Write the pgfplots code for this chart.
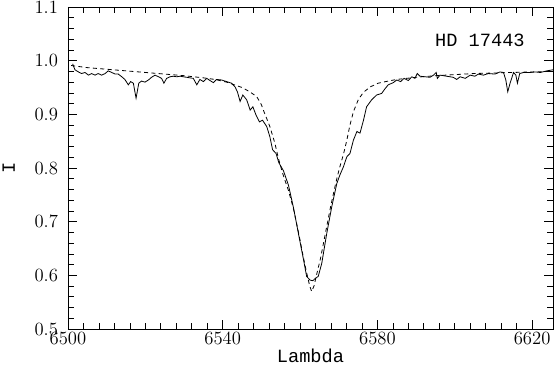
\documentclass[border=0pt]{standalone}
\usepackage{fontspec}
\usepackage{pgfplots}
\pgfplotsset{compat=1.18}
\newfontfamily\monofont{Liberation Mono}
\begin{document}
\begin{tikzpicture}
\useasboundingbox (-51pt,-27.75pt) rectangle (364.5pt,246.75pt);
\begin{axis}[
  at={(0pt,0pt)}, anchor=south west,
  scale only axis, width=363.75pt, height=241.5pt,
  xmin=6500, xmax=6625.4, ymin=0.5, ymax=1.1,
  xtick={6500,6540,6580,6620}, xticklabels={6500,6540,6580,6620},
  ytick={0.5,0.6,0.7,0.8,0.9,1.0,1.1}, yticklabels={0.5,0.6,0.7,0.8,0.9,1.0,1.1},
  minor x tick num=9, minor y tick num=4,
  tick align=inside, major tick length=7pt, minor tick length=4.5pt,
  tick style={black, line width=0.5pt},
  axis line style={line width=0.6pt},
  ticklabel style={font=\fontsize{14}{16}\selectfont\addfontfeature{LetterSpace=16}},
  xticklabel style={yshift=1.5pt},
  yticklabel style={xshift=-4pt},
  xlabel={Lambda},
  xlabel style={at={(axis description cs:0.5,-0.082)}, anchor=center, font=\monofont\fontsize{14}{16}\selectfont},
  ylabel={I},
  ylabel style={at={(axis description cs:-0.122,0.5)}, anchor=center, font=\monofont\fontsize{14}{16}\selectfont},
]
\addplot[black, line width=0.6pt, dash pattern=on 3pt off 2.5pt] coordinates {
(6500.8,0.991) (6505,0.987) (6510,0.984) (6515,0.981) (6520,0.978) (6525,0.975)
(6530,0.972) (6535,0.968) (6538,0.965) (6541,0.960) (6543,0.955) (6545,0.950)
(6547,0.942) (6548.8,0.933) (6550,0.918) (6550.5,0.908) (6551.5,0.890) (6552.2,0.877)
(6553.5,0.846) (6554.4,0.818) (6555.5,0.790) (6557,0.758) (6558.3,0.724) (6559.6,0.680)
(6560.9,0.632) (6561.7,0.605) (6562.5,0.580) (6563.0,0.570) (6563.6,0.580) (6564.4,0.605)
(6565.3,0.632) (6566.6,0.680) (6567.9,0.728) (6569.2,0.771) (6570.2,0.800) (6571.2,0.825)
(6572.1,0.852) (6572.9,0.880) (6573.8,0.905) (6575.1,0.928) (6576.4,0.941) (6578.1,0.951)
(6580.2,0.958) (6582.8,0.962) (6585,0.965) (6590,0.969) (6595,0.972) (6600,0.974)
(6605,0.976) (6610,0.977) (6615,0.978) (6620,0.979) (6625.4,0.980)
};
\addplot[black, line width=0.6pt] coordinates {
(6501.2,0.994) (6501.8,0.983) (6502.7,0.979) (6503.5,0.976) (6504.4,0.978) (6505.3,0.973)
(6506.1,0.976) (6507.0,0.973) (6507.8,0.976) (6508.7,0.973) (6509.6,0.976) (6510.4,0.981)
(6511.3,0.978) (6512.2,0.975) (6513.0,0.975) (6513.9,0.970) (6514.7,0.965) (6515.6,0.955)
(6516.2,0.961) (6516.9,0.958) (6517.6,0.930) (6518.3,0.958) (6519.0,0.962) (6519.9,0.960)
(6520.8,0.964) (6521.6,0.969) (6522.5,0.973) (6523.4,0.970) (6524.2,0.967) (6524.8,0.958)
(6525.5,0.967) (6526.4,0.970) (6527.2,0.971) (6528.1,0.970) (6529.0,0.971) (6529.8,0.970)
(6530.7,0.969) (6531.5,0.968) (6532.4,0.967) (6533.3,0.955) (6534.1,0.965) (6535.0,0.961)
(6535.9,0.967) (6536.7,0.963) (6537.6,0.959) (6538.4,0.965) (6539.7,0.964) (6541.0,0.961)
(6542.3,0.958) (6543.2,0.951) (6543.8,0.942) (6544.5,0.924) (6545.2,0.936) (6546.2,0.927)
(6547.1,0.908) (6547.8,0.914) (6548.6,0.899) (6549.5,0.886) (6550.3,0.889) (6551.4,0.877)
(6552.2,0.858) (6552.9,0.834) (6553.8,0.827) (6554.5,0.810) (6555.7,0.795) (6557.0,0.768)
(6558.3,0.726) (6559.6,0.677) (6560.9,0.629) (6561.7,0.598) (6562.6,0.591) (6563.3,0.590)
(6563.9,0.594) (6564.7,0.598) (6565.6,0.622) (6566.9,0.678) (6568.2,0.728) (6569.5,0.771)
(6570.3,0.787) (6571.2,0.802) (6572.1,0.821) (6572.9,0.827) (6573.8,0.852) (6574.7,0.868)
(6575.5,0.865) (6576.4,0.889) (6577.2,0.914) (6578.5,0.927) (6579.8,0.936) (6581.1,0.939)
(6582.0,0.948) (6582.8,0.955) (6584.1,0.959) (6585.0,0.964) (6586.0,0.961) (6586.9,0.967)
(6588.0,0.963) (6588.9,0.970) (6589.7,0.967) (6590.3,0.976) (6591.0,0.971) (6592.3,0.970)
(6593.6,0.969) (6594.5,0.973) (6595.2,0.978) (6595.5,0.967) (6596.2,0.973) (6597.9,0.971)
(6599.6,0.969) (6600.5,0.965) (6601.4,0.970) (6602.7,0.967) (6604.0,0.973) (6605.2,0.971)
(6606.1,0.975) (6607.4,0.973) (6608.7,0.976) (6610.4,0.975) (6611.7,0.979) (6612.6,0.978)
(6613.2,0.964) (6613.7,0.942) (6614.3,0.958) (6615.2,0.978) (6615.8,0.973) (6616.2,0.958)
(6616.8,0.976) (6617.8,0.978) (6619.5,0.978) (6620.8,0.979) (6622.1,0.978) (6623.8,0.981)
(6625.4,0.983)
};
\node[font=\monofont\fontsize{14}{16}\selectfont, anchor=center] at (axis cs:6606.5,1.038) {HD 17443};
\end{axis}
\end{tikzpicture}
\end{document}
